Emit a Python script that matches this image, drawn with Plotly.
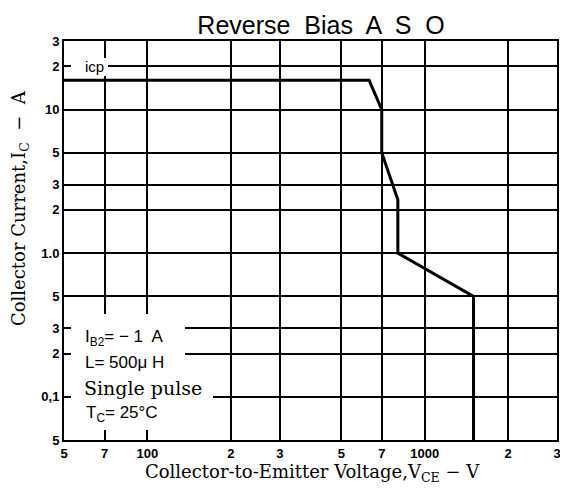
import plotly.graph_objects as go

# Boundary of reverse-bias safe operating area
vce = [50, 630, 700, 700, 800, 800, 1500, 1500]
ic = [16, 16, 10, 5, 2.35, 1.0, 0.5, 0.05]

x_tickvals = [50, 70, 100, 200, 300, 500, 700, 1000, 2000, 3000]
x_ticktext = ["5", "7", "100", "2", "3", "5", "7", "1000", "2", "3"]
y_tickvals = [0.05, 0.1, 0.2, 0.3, 0.5, 1, 2, 3, 5, 10, 20, 30]
y_ticktext = ["5", "0,1", "2", "3", "5", "1.0", "2", "3", "5", "10", "2", "3"]

# page is shown with the browser's default 8px body margin
OFF = 8
W, H = 568 - OFF, 492 - 2 * OFF
L, R, T, B = 64, 557, 41, 440  # plot area in page pixels


def px(x):
    return (x - L) / (R - L)


def py(y):
    return (B - y) / (B - T)


fig = go.Figure()
fig.add_trace(go.Scatter(x=vce, y=ic, mode="lines",
                         line=dict(color="black", width=3), showlegend=False,
                         hoverinfo="skip"))

sans = "Liberation Sans, Arial, sans-serif"
serif = "DejaVu Serif, serif"

fig.update_layout(
    width=W, height=H,
    margin=dict(l=L - OFF, r=W + OFF - R, t=T - OFF, b=H + OFF - B, autoexpand=False),
    paper_bgcolor="white", plot_bgcolor="white",
    title=dict(text="Reverse  Bias  A  S  O", x=(321 - OFF) / W, xanchor="center",
               y=1 - (25 - OFF) / H, yanchor="middle", automargin=False,
               font=dict(family=sans, size=25, color="black")),
    xaxis=dict(type="log", range=[1.69895, 3.47716], automargin=False,
               tickvals=x_tickvals, ticktext=x_ticktext, ticklabeloverflow="allow",
               ticks="inside", ticklen=10, tickwidth=2, tickcolor="black",
               showgrid=True, gridcolor="black", gridwidth=1.8,
               showline=True, linecolor="black", linewidth=2, mirror=True,
               tickfont=dict(family=sans, size=13, color="black", weight="bold"),
               zeroline=False),
    yaxis=dict(type="log", range=[-1.30106, 1.47716], automargin=False,
               tickvals=y_tickvals, ticktext=y_ticktext, ticklabeloverflow="allow",
               ticks="inside", ticklen=6, tickwidth=2, tickcolor="black",
               showgrid=True, gridcolor="black", gridwidth=1.8,
               showline=True, linecolor="black", linewidth=2, mirror=True,
               tickfont=dict(family=sans, size=13, color="black", weight="bold"),
               zeroline=False),
)

# white boxes behind the condition labels and the icp label
fig.add_shape(type="rect", xref="paper", yref="paper",
              x0=px(71), x1=px(185), y0=py(430), y1=py(314),
              fillcolor="white", line=dict(width=0), layer="above")
fig.add_shape(type="rect", xref="paper", yref="paper",
              x0=px(71), x1=px(213), y0=py(405), y1=py(376),
              fillcolor="white", line=dict(width=0), layer="above")
fig.add_shape(type="rect", xref="paper", yref="paper",
              x0=px(71), x1=px(108), y0=py(76), y1=py(58),
              fillcolor="white", line=dict(width=0), layer="above")

ann = [
    ("icp", 94, 66, sans, 15, "center", 0),
    ("I<sub>B2</sub>= − 1  A", 83, 338, sans, 17, "left", 0),
    ("L= 500μ H", 83, 362, sans, 17, "left", 0),
    ("Single pulse", 82, 388, serif, 19, "left", 0),
    ("T<sub>C</sub>= 25°C", 84, 414, sans, 17, "left", 0),
    ("Collector-to-Emitter Voltage,V<sub>CE</sub> − V", 312, 473, serif, 18, "center", 0),
    ("Collector Current,I<sub>C</sub>  −  A", 20, 208, serif, 18, "center", -90),
]
for text, x, y, fam, size, anchor, ang in ann:
    fig.add_annotation(text=text, xref="paper", yref="paper",
                       x=px(x), y=py(y), xanchor=anchor, yanchor="middle",
                       showarrow=False, textangle=ang,
                       font=dict(family=fam, size=size, color="black"))

fig.write_html("out.html")
